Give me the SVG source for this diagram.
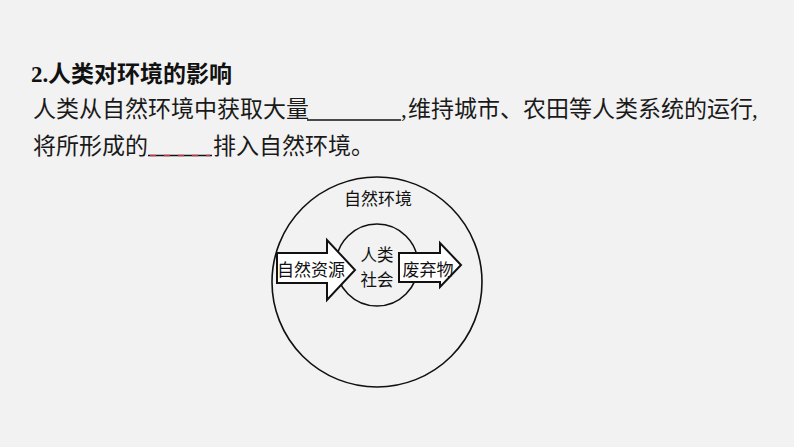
<svg xmlns="http://www.w3.org/2000/svg" width="794" height="447" viewBox="0 0 794 447">
  <style>
    .t { font-family: "Noto Sans CJK SC", "Noto Sans", sans-serif; font-size: 23px; fill: #1a1a1a; }
    .tb { font-family: "Noto Sans CJK SC", "Noto Sans", sans-serif; font-size: 23px; font-weight: bold; fill: #111; }
    .num { font-family: "Liberation Serif", "Noto Sans CJK SC", serif; font-size: 23px; font-weight: bold; fill: #111; }
    .cm { font-family: "Liberation Serif", "Noto Sans CJK SC", serif; font-size: 23px; fill: #1a1a1a; }
    .lbl { font-family: "Noto Sans CJK SC", "Noto Sans", sans-serif; font-size: 17px; fill: #111; text-anchor: middle; dominant-baseline: central; }
    .lbs { font-family: "Noto Sans CJK SC", "Noto Sans", sans-serif; font-size: 16.5px; fill: #111; text-anchor: middle; dominant-baseline: central; }
    .ring { fill: none; stroke: #111; stroke-width: 1.6; }
    .arrow { fill: #fff; stroke: #111; stroke-width: 2; stroke-linejoin: miter; }
    .blank { stroke: #111; stroke-width: 1.3; }
  </style>
  <rect width="794" height="447" fill="#f2f2f2"/>

  <g id="text">
    <text class="num" x="31" y="81.5">2.</text>
    <text class="tb" x="48" y="81.5">人类对环境的影响</text>
    <text class="t" x="33" y="116.5">人类从自然环境中获取大量</text>
    <line class="blank" x1="307" y1="120" x2="401" y2="120"/>
    <text class="cm" x="401" y="116.5">,</text>
    <text class="t" x="408" y="116.5">维持城市、农田等人类系统的运行</text>
    <text class="cm" x="752" y="116.5">,</text>
    <text class="t" x="33" y="153.5">将所形成的</text>
    <line class="blank" x1="148" y1="155.5" x2="212" y2="155.5"/>
    <line x1="150" y1="155.5" x2="210" y2="155.5" stroke="#c23a4a" stroke-width="1.3" stroke-dasharray="6 8"/>
    <text class="t" x="213" y="153.5">排入自然环境。</text>
  </g>

  <g id="nature">
    <circle class="ring" cx="377" cy="282" r="105"/>
    <text class="lbl" x="378" y="197">自然环境</text>
  </g>

  <g id="society">
    <circle class="ring" cx="377" cy="265" r="41"/>
    <text class="lbs" x="377" y="254">人类</text>
    <text class="lbs" x="377" y="278.5">社会</text>
  </g>

  <g id="connectors">
    <g id="resources">
      <polygon class="arrow" points="277,253 327,253 327,240 355,270 327,300 327,283 277,283"/>
      <text class="lbl" x="311" y="268">自然资源</text>
    </g>
    <g id="waste">
      <polygon class="arrow" points="399,253 440,253 440,243 461,265 440,287 440,282 399,282"/>
      <text class="lbl" x="428" y="268">废弃物</text>
    </g>
  </g>
</svg>
